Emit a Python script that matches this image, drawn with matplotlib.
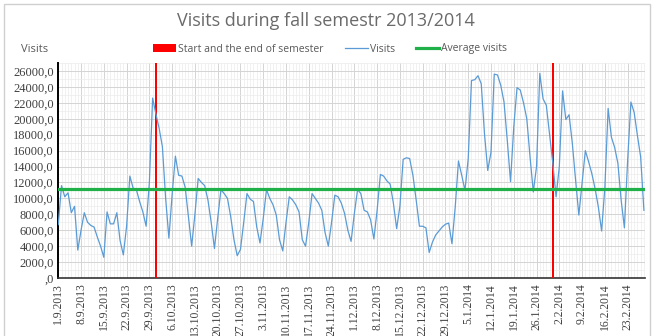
import numpy as np
import pandas as pd
import matplotlib
matplotlib.use("Agg")
import matplotlib.pyplot as plt
import matplotlib.dates as mdates
from matplotlib.patches import Patch, Rectangle
from matplotlib.lines import Line2D
from matplotlib.ticker import FuncFormatter, MultipleLocator

# ── data (daily visits, 1.9.2013 – 28.2.2014) ──
start_date = "2013-09-01"
visits = [
    6700, 11600, 10200, 10700, 8200, 9000, 3500, 6000, 8200, 7000,
    6600, 6400, 5150, 4000, 2600, 8300, 6800, 6800, 8200, 4700,
    2900, 6500, 12800, 11300, 11100, 9600, 8300, 6500, 12000, 22600,
    20600, 18800, 16500, 10000, 5000, 10500, 15300, 12900, 12800, 11400,
    7700, 4000, 8000, 12500, 12000, 11600, 9800, 7000, 3700, 7500,
    11100, 10600, 10000, 7700, 4800, 2800, 3600, 7000, 10600, 9900,
    9600, 6400, 4400, 7500, 11100, 10000, 9200, 7900, 4800, 3400,
    7000, 10200, 9800, 9200, 8300, 4800, 4000, 7000, 10600, 10000,
    9400, 8500, 5700, 4000, 7000, 10400, 10200, 9400, 8100, 6000,
    4600, 8100, 11100, 10600, 8500, 8300, 7300, 4900, 8500, 13000,
    12800, 12200, 11800, 9400, 6200, 9000, 14900, 15100, 15000, 12900,
    9800, 6500, 6500, 6300, 3200, 4500, 5400, 5900, 6400, 6750,
    6900, 4300, 8900, 14700, 12900, 11000, 15000, 24800, 24900, 25400,
    24400, 18100, 13500, 15800, 25600, 25500, 24200, 22100, 17300, 12100,
    19000, 23900, 23600, 22000, 20000, 15200, 10800, 14000, 25700, 22500,
    21700, 18100, 14400, 10200, 14000, 23500, 19900, 20500, 16900, 12300,
    7900, 11900, 16000, 14600, 13100, 11200, 8900, 5900, 11400, 21300,
    17700, 16400, 14400, 9800, 6300, 14800, 22100, 20800, 17900, 15200,
    8500,
]
semester_dates = ["2013-10-01", "2014-01-31"]
average_visits = 11150

dates = pd.date_range(start_date, periods=len(visits), freq="D")
semester_dates = pd.to_datetime(semester_dates)

# ── figure ──
fig = plt.figure(figsize=(6.54, 3.36), dpi=100)
ax = fig.add_axes([58 / 654, 1 - 278 / 336, 587 / 654, 215 / 336])

# outer frame of the chart
fig.patches.append(Rectangle((4 / 654, -0.01), 646 / 654, 1 - 4 / 336 + 0.01,
                             transform=fig.transFigure, fill=False,
                             edgecolor="#d0d0d0", linewidth=1))

ymax = 27000
ax.bar(semester_dates, [ymax] * len(semester_dates), width=0.8,
       color="#ff0000", zorder=3)
ax.plot(dates, visits, color="#5b9bd5", linewidth=0.9, zorder=4)
ax.axhline(average_visits, color="#1fb04a", linewidth=2.3, zorder=5)

ax.set_ylim(0, ymax)
ax.set_xlim(dates[0] - pd.Timedelta(hours=2), dates[-1] + pd.Timedelta(hours=8))

# ticks
ax.yaxis.set_minor_locator(MultipleLocator(1000))
ax.set_yticks(np.arange(0, 26001, 2000))
ax.yaxis.set_major_formatter(FuncFormatter(
    lambda v, p: ",0" if v == 0 else f"{v:.1f}".replace(".", ",")))

week_ticks = pd.date_range(start_date, dates[-1], freq="7D")
ax.set_xticks(week_ticks)
ax.set_xticklabels([f"{d.day}.{d.month}.{d.year}" for d in week_ticks],
                   rotation=90)
ax.xaxis.set_minor_locator(mdates.DayLocator())

for lab in ax.get_xticklabels():
    lab.set_family("Liberation Serif")
    lab.set_fontsize(8.4)
    lab.set_color("#404040")
for lab in ax.get_yticklabels():
    lab.set_family("Liberation Serif")
    lab.set_fontsize(9)
    lab.set_color("#404040")

ax.tick_params(axis="both", which="both", length=0)
ax.tick_params(axis="x", pad=4)
ax.tick_params(axis="y", pad=3)

ax.grid(True, which="major", color="#d4d4d4", linewidth=0.7, zorder=0)
ax.grid(True, which="minor", color="#ececec", linewidth=0.5, zorder=0)
ax.set_axisbelow(True)

for s in ["top", "right"]:
    ax.spines[s].set_visible(False)
ax.spines["left"].set_color("black")
ax.spines["left"].set_linewidth(1.4)
ax.spines["bottom"].set_color("#333333")
ax.spines["bottom"].set_linewidth(1.2)

# titles and legend
fig.text(326 / 654, 1 - 21 / 336, "Visits during fall semestr 2013/2014",
         ha="center", va="center", fontsize=13, color="#6a6a6a", family="Open Sans")
fig.text(35 / 654, 1 - 49 / 336, "Visits", ha="center", va="center",
         fontsize=8, color="#595959", family="Open Sans")

handles = [
    Patch(facecolor="#ff0000", edgecolor="none"),
    Line2D([], [], color="#5b9bd5", linewidth=0.9),
    Line2D([], [], color="#1fb04a", linewidth=2.3),
]
labels = ["Start and the end of semester", "Visits", "Average visits"]
fig.legend(handles, labels, loc="center", bbox_to_anchor=(330 / 654, 1 - 49 / 336),
           ncol=3, frameon=False, handlelength=2.2,
           handletextpad=0.2, columnspacing=2.0,
           prop={"family": "Open Sans", "size": 7.5}, labelcolor="#595959")

fig.savefig("out.png", dpi=100)
